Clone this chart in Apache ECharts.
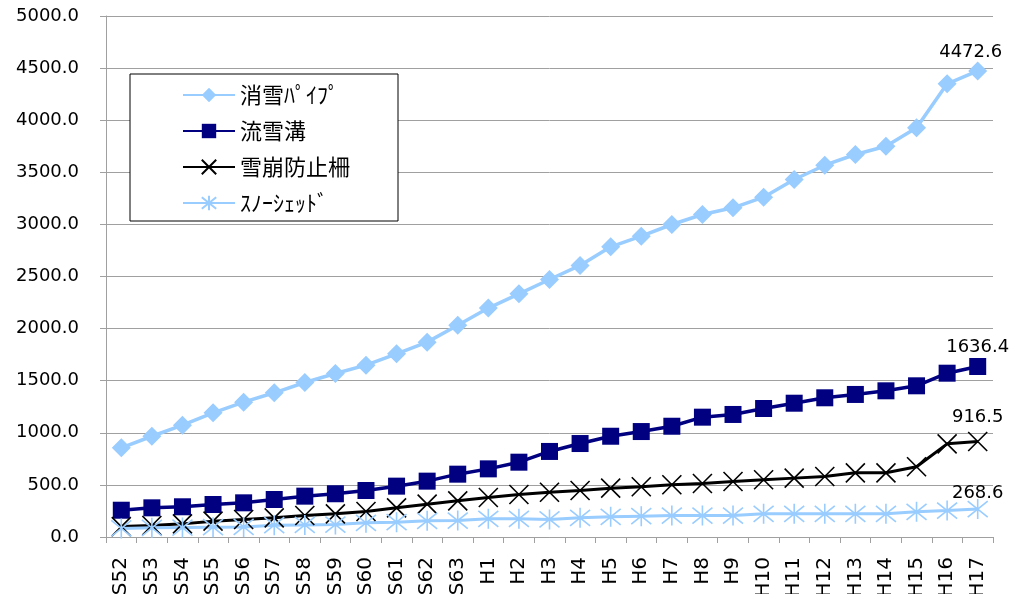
<!DOCTYPE html>
<html>
<head>
<meta charset="utf-8">
<script src="https://cdn.jsdelivr.net/npm/echarts@6/dist/echarts.min.js"></script>
<style>
html,body{margin:0;padding:0;background:#fff;}
#c{width:1010px;height:594px;}
</style>
</head>
<body>
<div id="c"></div>
<script>
const categories = ['S52','S53','S54','S55','S56','S57','S58','S59','S60','S61','S62','S63',
  'H1','H2','H3','H4','H5','H6','H7','H8','H9','H10','H11','H12','H13','H14','H15','H16','H17'];
const seriesNames = ['消雪ﾊﾟｲﾌﾟ','流雪溝','雪崩防止柵','ｽﾉｰｼｪｯﾄﾞ'];
const snowPipe = [856, 967, 1073, 1192, 1294, 1384, 1483, 1569, 1649, 1758, 1870, 2033, 2197, 2334, 2471, 2606, 2785, 2887, 2999, 3095, 3159, 3261, 3431, 3568, 3671, 3750, 3927, 4349, 4472.6];
const snowGutter = [257, 280, 290, 312, 328, 360, 392, 415, 446, 488, 536, 603, 654, 718, 821, 897, 967, 1012, 1063, 1150, 1176, 1233, 1284, 1336, 1368, 1403, 1451, 1572, 1636.4];
const avalancheFence = [100, 110, 126, 152, 168, 184, 206, 222, 245, 280, 315, 347, 379, 408, 430, 446, 469, 482, 501, 513, 533, 549, 565, 581, 616, 616, 674, 894, 916.5];
const snowShed = [82, 88, 91, 94, 97, 113, 116, 119, 136, 142, 155, 158, 175, 175, 168, 184, 194, 200, 206, 206, 206, 222, 222, 222, 222, 222, 242, 254, 268.6];
const yMin = 0, yMax = 5000, yInterval = 500;

function withLastLabel(arr) {
  return arr.map((v, i) => i === arr.length - 1 ? {value: v, label: {show: true}} : v);
}
function labelCfg(dist, offset) {
  return {
    show: false, position: 'top', distance: dist, offset: offset || [0, 0],
    fontFamily: 'DejaVu Sans', fontSize: 18, color: '#000',
    formatter: p => Number(p.value).toFixed(1)
  };
}

const chart = echarts.init(document.getElementById('c'), null, {renderer: 'canvas'});
chart.setOption({
  animation: false,
  backgroundColor: '#fff',
  grid: {left: 106, right: 17, top: 16, bottom: 57, containLabel: false, outerBoundsMode: 'none'},
  legend: {
    orient: 'vertical',
    left: 130, top: 74,
    padding: [9, 48, 6, 52],
    itemGap: 12,
    itemWidth: 52, itemHeight: 18,
    borderColor: '#000', borderWidth: 1,
    backgroundColor: '#fff',
    textStyle: {fontFamily: 'Noto Sans CJK JP', fontSize: 22, color: '#000', lineHeight: 24},
    data: seriesNames
  },
  xAxis: {
    type: 'category',
    data: categories,
    boundaryGap: true,
    axisLine: {lineStyle: {color: '#a0a0a0', width: 1}},
    axisTick: {show: true, inside: false, length: 6, lineStyle: {color: '#a0a0a0'}},
    axisLabel: {rotate: 90, margin: 20, interval: 0, hideOverlap: false, fontFamily: 'DejaVu Sans', fontSize: 20, color: '#000'},
    splitLine: {show: false}
  },
  yAxis: {
    type: 'value',
    min: yMin, max: yMax, interval: yInterval,
    axisLine: {show: true, lineStyle: {color: '#a0a0a0', width: 1}},
    axisTick: {show: true, inside: false, length: 6, lineStyle: {color: '#a0a0a0'}},
    axisLabel: {margin: 27, fontFamily: 'DejaVu Sans', fontSize: 18, color: '#000', formatter: v => v.toFixed(1)},
    splitLine: {show: true, lineStyle: {color: '#a0a0a0', width: 1}}
  },
  series: [
    {
      name: seriesNames[0], type: 'line', data: withLastLabel(snowPipe),
      symbol: 'diamond', symbolSize: 19,
      lineStyle: {color: '#99ccff', width: 3.5},
      itemStyle: {color: '#99ccff'},
      label: labelCfg(0, [-7, 0])
    },
    {
      name: seriesNames[1], type: 'line', data: withLastLabel(snowGutter),
      symbol: 'rect', symbolSize: 17,
      lineStyle: {color: '#000080', width: 3.5},
      itemStyle: {color: '#000080'},
      label: labelCfg(2)
    },
    {
      name: seriesNames[2], type: 'line', data: withLastLabel(avalancheFence),
      symbol: 'path://M0,0L20,20M20,0L0,20', symbolSize: 19,
      lineStyle: {color: '#000', width: 3},
      itemStyle: {color: '#000', borderColor: '#000', borderWidth: 1.6},
      label: labelCfg(5)
    },
    {
      name: seriesNames[3], type: 'line', data: withLastLabel(snowShed),
      symbol: 'path://M10,0L10,20M0,2L20,18M20,2L0,18', symbolSize: 20,
      lineStyle: {color: '#99ccff', width: 3},
      itemStyle: {color: '#99ccff', borderColor: '#99ccff', borderWidth: 1.6},
      label: labelCfg(-4)
    }
  ]
});
</script>
</body>
</html>
